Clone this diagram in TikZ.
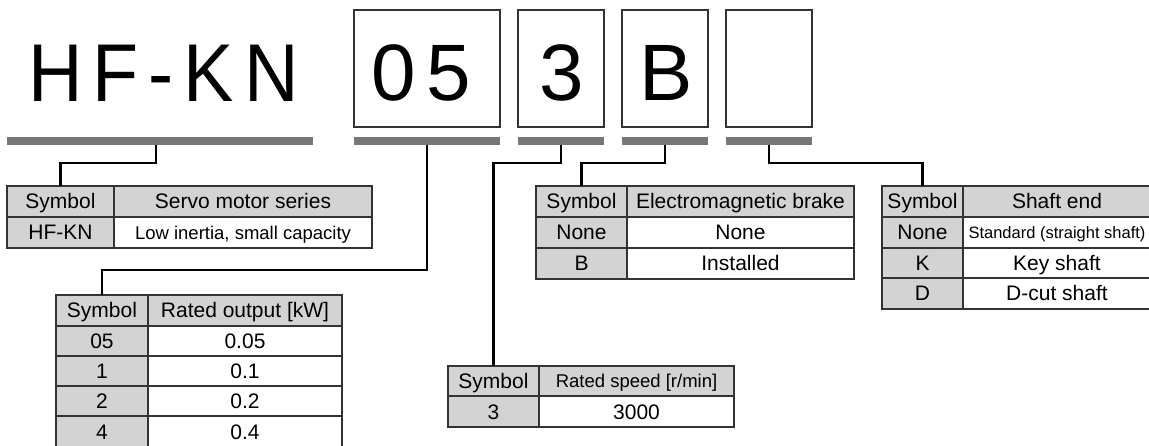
\documentclass[tikz,border=0pt]{standalone}
\usepackage{fontspec}
\setmainfont{Liberation Sans}
\newfontfamily\bigletters[FakeStretch=0.92]{Liberation Sans}
\definecolor{bargray}{HTML}{777777}
\definecolor{cellgray}{HTML}{D3D3D3}
\definecolor{edge}{HTML}{333333}
\begin{document}
\begin{tikzpicture}[x=1pt,y=-1pt,
  cell/.style={draw=edge, line width=1.2pt, anchor=north west, inner sep=0pt, outer sep=0pt,
    text height=15pt, text depth=0pt, font=\fontsize{21}{21}\selectfont},
  gcell/.style={cell, fill=cellgray},
  wcell/.style={cell, fill=white},
  smalltext/.style={font=\fontsize{18.5}{18.5}\selectfont, text height=13.3pt},
  tinytext/.style={font=\fontsize{16.5}{16.5}\selectfont, text height=11.8pt},
  codebox/.style={draw=edge, line width=1.3pt, anchor=north west, inner sep=0pt, outer sep=0pt, minimum height=117pt},
  bar/.style={fill=bargray, anchor=north west, inner sep=0pt, outer sep=0pt, minimum height=8pt},
  conn/.style={draw=black, line width=2.6pt},
  bigtitle/.style={font=\bigletters\fontsize{82}{82}\selectfont, inner sep=0pt, anchor=base west},
  bigdigit/.style={font=\fontsize{80}{80}\selectfont, inner sep=0pt, anchor=base}
]
\useasboundingbox (0,0) rectangle (1149,446);

% model code
\node[bigtitle] (hfkn) at (28,102) {H\kern10pt F\kern10pt -\kern10pt K\kern10pt N};
\node[codebox, minimum width=146pt] (box05) at (354,10) {};
\node[codebox, minimum width=86pt] (box3) at (518,10) {};
\node[codebox, minimum width=86pt] (boxB) at (622,10) {};
\node[codebox, minimum width=86pt] (boxE) at (726,10) {};
\node[bigdigit] (d05) at (421,101) {0\kern11pt 5};
\node[bigdigit] (d3) at (562,101) {3};
\node[bigdigit] (dB) at (666,101) {B};

% bars
\node[bar, minimum width=306pt] (bar1) at (7,137) {};
\node[bar, minimum width=146pt] (bar2) at (354,137) {};
\node[bar, minimum width=86pt] (bar3) at (518,137) {};
\node[bar, minimum width=86pt] (bar4) at (622,137) {};
\node[bar, minimum width=86pt] (bar5) at (726,137) {};

% table 1: series
\node[gcell, minimum width=107pt, minimum height=31pt] (t1h1) at (7,186) {Symbol};
\node[gcell, minimum width=258pt, minimum height=31pt] (t1h2) at (114,186) {Servo motor series};
\node[gcell, minimum width=107pt, minimum height=31pt] (t1r1) at (7,217) {HF-KN};
\node[wcell, smalltext, minimum width=258pt, minimum height=31pt] (t1r2) at (114,217) {Low inertia, small capacity};

% table 2: rated output
\node[gcell, minimum width=92pt, minimum height=31pt] (t2h1) at (56,295) {Symbol};
\node[gcell, minimum width=194pt, minimum height=31pt] (t2h2) at (148,295) {Rated output [kW]};
\node[gcell, minimum width=92pt, minimum height=30pt] (t2a1) at (56,326) {05};
\node[wcell, minimum width=194pt, minimum height=30pt] (t2a2) at (148,326) {0.05};
\node[gcell, minimum width=92pt, minimum height=30pt] (t2b1) at (56,356) {1};
\node[wcell, minimum width=194pt, minimum height=30pt] (t2b2) at (148,356) {0.1};
\node[gcell, minimum width=92pt, minimum height=30pt] (t2c1) at (56,386) {2};
\node[wcell, minimum width=194pt, minimum height=30pt] (t2c2) at (148,386) {0.2};
\node[gcell, minimum width=92pt, minimum height=32pt] (t2d1) at (56,416) {4};
\node[wcell, minimum width=194pt, minimum height=32pt] (t2d2) at (148,416) {0.4};

% table 3: rated speed
\node[gcell, minimum width=91pt, minimum height=30pt] (t3h1) at (448,366) {Symbol};
\node[gcell, smalltext, minimum width=195pt, minimum height=30pt] (t3h2) at (539,366) {Rated speed [r/min]};
\node[gcell, minimum width=91pt, minimum height=31pt] (t3r1) at (448,396) {3};
\node[wcell, minimum width=195pt, minimum height=31pt] (t3r2) at (539,396) {3000};

% table 4: brake
\node[gcell, minimum width=91pt, minimum height=31pt] (t4h1) at (536,186) {Symbol};
\node[gcell, minimum width=227pt, minimum height=31pt] (t4h2) at (627,186) {Electromagnetic brake};
\node[gcell, minimum width=91pt, minimum height=31pt] (t4a1) at (536,217) {None};
\node[wcell, minimum width=227pt, minimum height=31pt] (t4a2) at (627,217) {None};
\node[gcell, minimum width=91pt, minimum height=31pt] (t4b1) at (536,248) {B};
\node[wcell, minimum width=227pt, minimum height=31pt] (t4b2) at (627,248) {Installed};

% table 5: shaft end
\node[gcell, minimum width=81pt, minimum height=31pt] (t5h1) at (882,186) {Symbol};
\node[gcell, minimum width=188pt, minimum height=31pt] (t5h2) at (963,186) {Shaft end};
\node[gcell, minimum width=81pt, minimum height=31pt] (t5a1) at (882,217) {None};
\node[wcell, tinytext, minimum width=188pt, minimum height=31pt] (t5a2) at (963,217) {Standard (straight shaft)};
\node[gcell, minimum width=81pt, minimum height=30pt] (t5b1) at (882,248) {K};
\node[wcell, minimum width=188pt, minimum height=30pt] (t5b2) at (963,248) {Key shaft};
\node[gcell, minimum width=81pt, minimum height=31pt] (t5c1) at (882,278) {D};
\node[wcell, minimum width=188pt, minimum height=31pt] (t5c2) at (963,278) {D-cut shaft};

% connectors
\draw[conn] ([xshift=-4pt]bar1.south) -- ++(0,18) -| (t1h1.north);
\draw[conn] (bar2.south) -- ++(0,125) -| (t2h1.north);
\draw[conn] (bar3.south) -- ++(0,18) -| (t3h1.north);
\draw[conn] (bar4.south) -- ++(0,18) -| (t4h1.north);
\draw[conn] (bar5.south) -- ++(0,18) -| (t5h1.north);
\end{tikzpicture}
\end{document}
